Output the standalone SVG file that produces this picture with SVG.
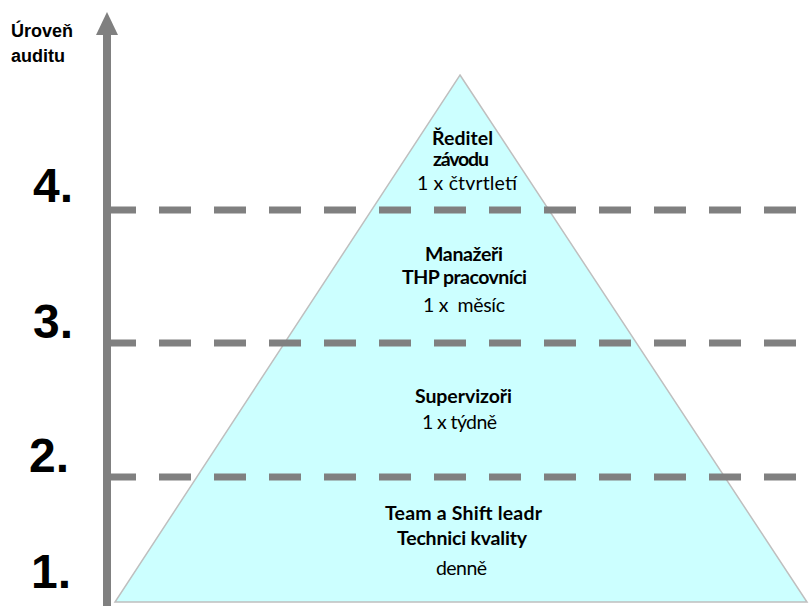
<svg xmlns="http://www.w3.org/2000/svg" width="811" height="606" viewBox="0 0 811 606">
<style>
.lvl{font-family:"Liberation Sans",Arial,sans-serif;font-weight:bold;font-size:48px;fill:#000}
.ax{font-family:"Liberation Sans",Arial,sans-serif;font-weight:bold;font-size:18px;fill:#000}
.b{font-family:Lato,"Open Sans",sans-serif;font-weight:bold;font-size:19.5px;fill:#000;text-anchor:middle}
.n{font-family:Lato,"Open Sans",sans-serif;font-size:19.5px;fill:#000;text-anchor:middle;white-space:pre}
.dash{stroke:#808080;stroke-width:7;stroke-dasharray:32 23;fill:none}
</style>
<rect width="811" height="606" fill="#fff"/>
<g id="pyramid">
<polygon points="460,75 807,602 115,602" fill="#CCFFFF" stroke="#BFBFBF" stroke-width="1.5"/>
</g>
<g id="connectors">
<line class="dash" x1="104" y1="210" x2="800" y2="210"/>
<line class="dash" x1="104" y1="343" x2="800" y2="343"/>
<line class="dash" x1="104" y1="477" x2="800" y2="477"/>
</g>
<g id="axis">
<rect x="103" y="34" width="8" height="572" fill="#808080"/>
<polygon points="107,12 118,35 96,35" fill="#808080"/>
<text class="ax" x="11" y="37">Úroveň</text>
<text class="ax" x="11" y="62">auditu</text>
</g>
<g id="levels">
<text class="lvl" x="33" y="202">4.</text>
<text class="lvl" x="33" y="338">3.</text>
<text class="lvl" x="29" y="472">2.</text>
<text class="lvl" x="31" y="588">1.</text>
</g>
<g id="tier4">
<text class="b" x="432" y="145" style="text-anchor:start" textLength="61">Ředitel</text>
<text class="b" x="433" y="166" style="text-anchor:start" textLength="56">závodu</text>
<text class="n" x="467" y="190" textLength="100">1 x čtvrtletí</text>
</g>
<g id="tier3">
<text class="b" x="464" y="261" textLength="78">Manažeři</text>
<text class="b" x="464.5" y="284" textLength="125">THP pracovníci</text>
<text class="n" x="464" y="312" textLength="82">1 x  měsíc</text>
</g>
<g id="tier2">
<text class="b" x="463.5" y="403" textLength="97">Supervizoři</text>
<text class="n" x="459.5" y="429" textLength="75">1 x týdně</text>
</g>
<g id="tier1">
<text class="b" x="463.5" y="520" textLength="157">Team a Shift leadr</text>
<text class="b" x="462" y="545" textLength="130">Technici kvality</text>
<text class="n" x="461.5" y="575" textLength="51">denně</text>
</g>
</svg>
